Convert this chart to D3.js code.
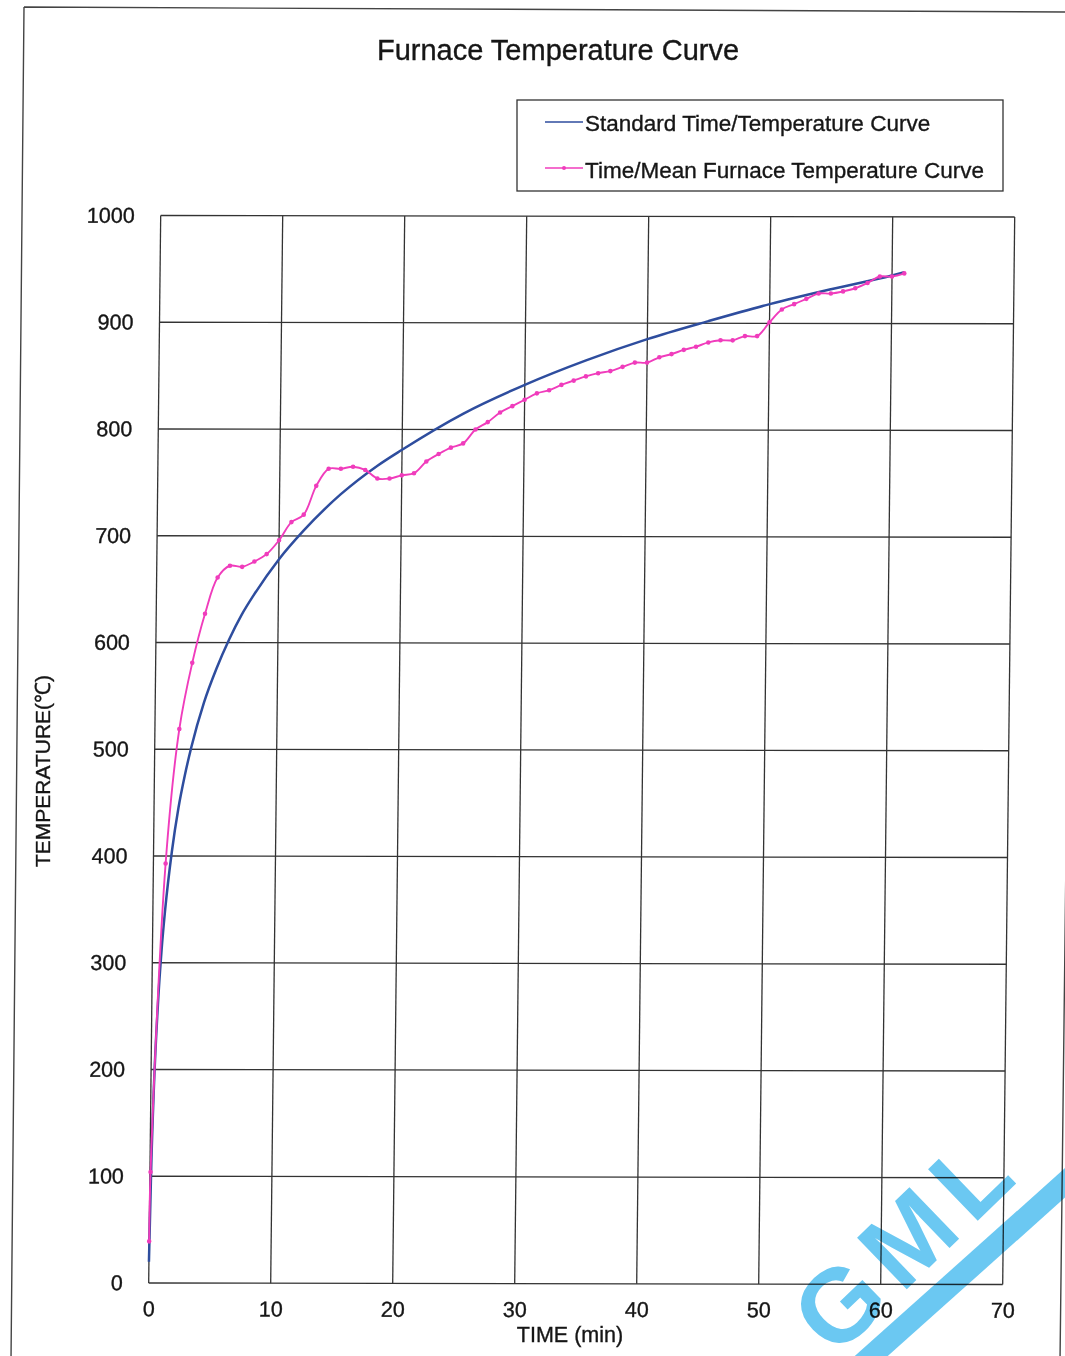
<!DOCTYPE html>
<html><head><meta charset="utf-8">
<script src="https://cdn.jsdelivr.net/npm/d3@7/dist/d3.min.js"></script>
<style>
body{margin:0;background:#fff}
svg{display:block}
text{font-family:"Liberation Sans",Arial,sans-serif;fill:#161616;stroke:#161616;stroke-width:0.35px}
</style>
</head><body>
<svg id="c" width="1065" height="1356"></svg>
<script>
// Standard time/temperature curve
const stdTime = [0, 0.1, 0.25, 0.5, 0.75, 1, 1.5, 2, 2.5, 3, 4, 5, 6, 7, 8, 10, 12, 15, 18, 20, 25, 30, 35, 40, 45, 50, 55, 60, 61];
const stdTemp = [20, 108, 185, 261, 312, 349, 404, 445, 476, 502, 544, 576, 603, 626, 645, 678, 705, 739, 766, 781, 815, 842, 865, 885, 902, 918, 932, 945, 948];

// Time/mean furnace temperature (one reading per minute)
const furnTime = [0, 0.05, 1, 2, 3, 4, 5, 6, 7, 8, 9, 10, 11, 12, 13, 14, 15, 16, 17, 18, 19, 20,
  21, 22, 23, 24, 25, 26, 27, 28, 29, 30, 31, 32, 33, 34, 35, 36, 37, 38, 39, 40,
  41, 42, 43, 44, 45, 46, 47, 48, 49, 50, 51, 52, 53, 54, 55, 56, 57, 58, 59, 60, 61];
const furnTemp = [39, 104, 393, 519, 581, 627, 661, 672, 671, 676, 683, 696, 713, 720, 747, 763, 763, 765, 762, 754, 754, 757,
  759, 770, 777, 783, 787, 800, 807, 816, 822, 828, 834, 837, 842, 846, 850, 853, 855, 859, 863, 863,
  868, 871, 875, 878, 882, 884, 884, 888, 888, 901, 913, 918, 923, 928, 928, 930, 933, 938, 944, 944, 947];

const xTicks = [0, 10, 20, 30, 40, 50, 60, 70];
const yTicks = [0, 100, 200, 300, 400, 500, 600, 700, 800, 900, 1000];

const titleText = "Furnace Temperature Curve";
const legendLabels = ["Standard Time/Temperature Curve", "Time/Mean Furnace Temperature Curve"];
const xTitle = "TIME (min)";
const yTitle = "TEMPERATURE(\u2103)";

const blue = "#2e4d9e", pink = "#f03cbc", gridCol = "#333333";

const svg = d3.select("#c");
const W = 854, H = 1067.5;

// outer frame of the scanned page
svg.append("path")
  .attr("d", "M24,7 L1074,12 M24,7 L11,1360 M1076,10 L1060,1362")
  .attr("fill", "none").attr("stroke", "#444").attr("stroke-width", 1.4);

// plot group (slight skew of the scan)
const g = svg.append("g")
  .attr("transform", `matrix(1,${1.5/854},${-12/1067},1,160.7,215.5)`);

const x = d3.scaleLinear().domain([0, 70]).range([0, W]);
const y = d3.scaleLinear().domain([0, 1000]).range([H, 0]);

// grid
g.selectAll("line.gx").data(xTicks).join("line").attr("class", "gx")
  .attr("x1", d => x(d)).attr("x2", d => x(d)).attr("y1", 0).attr("y2", H)
  .attr("stroke", gridCol).attr("stroke-width", 1.3);
g.selectAll("line.gy").data(yTicks).join("line").attr("class", "gy")
  .attr("x1", 0).attr("x2", W).attr("y1", d => y(d)).attr("y2", d => y(d))
  .attr("stroke", gridCol).attr("stroke-width", 1.3);

// axes labels
const ax = g.append("g").attr("transform", `translate(0,${H})`)
  .call(d3.axisBottom(x).tickValues(xTicks).tickFormat(d3.format("d")).tickSize(0).tickPadding(18));
const ay = g.append("g")
  .call(d3.axisLeft(y).tickValues(yTicks).tickFormat(d3.format("d")).tickSize(0).tickPadding(26));
[ax, ay].forEach(a => {
  a.select(".domain").remove();
  a.selectAll("text").attr("font-size", 21.5).attr("font-family", "Liberation Sans, Arial, sans-serif")
    .attr("fill", "#161616");
});

// standard curve
const stdData = stdTime.map((t, i) => [t, stdTemp[i]]);
g.append("path").datum(stdData)
  .attr("fill", "none").attr("stroke", blue).attr("stroke-width", 2.5)
  .attr("d", d3.line().x(d => x(d[0])).y(d => y(d[1])).curve(d3.curveMonotoneX));

// furnace curve
const furnData = furnTime.map((t, i) => [t, furnTemp[i]]);
g.append("path").datum(furnData)
  .attr("fill", "none").attr("stroke", pink).attr("stroke-width", 1.9)
  .attr("d", d3.line().x(d => x(d[0])).y(d => y(d[1])).curve(d3.curveCatmullRom.alpha(0.5)));
g.selectAll("circle.m").data(furnData).join("circle").attr("class", "m")
  .attr("cx", d => x(d[0])).attr("cy", d => y(d[1])).attr("r", 2.3)
  .attr("fill", pink);

// title
svg.append("text").attr("x", 558).attr("y", 60).attr("text-anchor", "middle")
  .attr("font-size", 29).text(titleText);

// legend
svg.append("rect").attr("x", 517).attr("y", 100).attr("width", 486).attr("height", 91)
  .attr("fill", "none").attr("stroke", "#333").attr("stroke-width", 1.3);
svg.append("line").attr("x1", 545).attr("x2", 583).attr("y1", 122).attr("y2", 122)
  .attr("stroke", blue).attr("stroke-width", 1.6);
svg.append("line").attr("x1", 545).attr("x2", 583).attr("y1", 168).attr("y2", 168)
  .attr("stroke", pink).attr("stroke-width", 1.6);
svg.append("circle").attr("cx", 564).attr("cy", 168).attr("r", 2).attr("fill", pink);
svg.append("text").attr("x", 585).attr("y", 131).attr("font-size", 22.5).text(legendLabels[0]);
svg.append("text").attr("x", 585).attr("y", 177.5).attr("font-size", 22.5).text(legendLabels[1]);

// axis titles
svg.append("text").attr("x", 570).attr("y", 1342).attr("text-anchor", "middle")
  .attr("font-size", 21.5).text(xTitle);
svg.append("text").attr("transform", "translate(50,771) rotate(-90)").attr("text-anchor", "middle")
  .attr("font-size", 21).text(yTitle);

// watermark
const wm = svg.append("g").style("mix-blend-mode", "multiply").attr("opacity", 0.92);
wm.append("line").attr("x1", 850).attr("y1", 1375).attr("x2", 1085).attr("y2", 1165)
  .attr("stroke", "#5ec3f1").attr("stroke-width", 22);
wm.append("text").attr("transform", "translate(906,1240) rotate(-44)")
  .attr("text-anchor", "middle").attr("dominant-baseline", "central")
  .attr("font-size", 104).attr("font-weight", "bold").attr("letter-spacing", 12)
  .style("fill", "#5ec3f1").style("stroke", "none").text("GML");
</script>
</body></html>
